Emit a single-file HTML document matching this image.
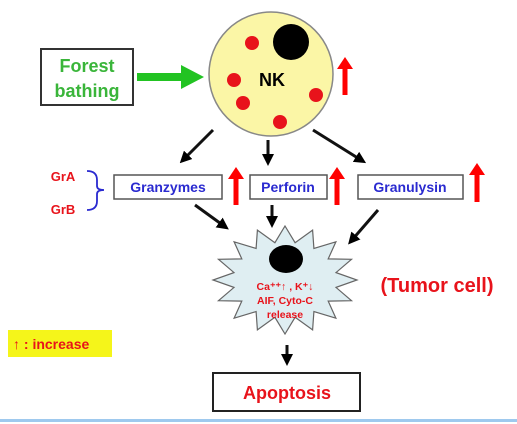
<!DOCTYPE html>
<html><head><meta charset="utf-8"><style>
html,body{margin:0;padding:0;background:#fff;}
svg{display:block;font-family:"Liberation Sans",Arial,sans-serif;font-weight:bold;}
</style></head><body>
<svg width="517" height="424" viewBox="0 0 517 424">
<defs>
<marker id="ah" markerWidth="4" markerHeight="4" refX="2" refY="2" orient="auto" markerUnits="strokeWidth"><path d="M0,0 L4,2 L0,4 z" fill="#000"/></marker>
</defs>
<rect x="41" y="49" width="92" height="56" fill="#fff" stroke="#333" stroke-width="2"/>
<text x="87" y="72" font-size="18" fill="#3ab53a" text-anchor="middle">Forest</text>
<text x="87" y="97" font-size="18" fill="#3ab53a" text-anchor="middle">bathing</text>
<line x1="137" y1="77" x2="184" y2="77" stroke="#22c322" stroke-width="8"/>
<polygon points="181,65 204,77 181,89" fill="#22c322"/>
<circle cx="271" cy="74" r="62" fill="#fbf6a6" stroke="#888" stroke-width="1.5"/>
<circle cx="291" cy="42" r="18" fill="#000"/>
<g fill="#e8131b">
<circle cx="252" cy="43" r="7"/><circle cx="234" cy="80" r="7"/><circle cx="243" cy="103" r="7"/><circle cx="316" cy="95" r="7"/><circle cx="280" cy="122" r="7"/>
</g>
<text x="272" y="86" font-size="18" fill="#000" text-anchor="middle">NK</text>
<g id="redarrows"></g>
<g stroke="#111" stroke-width="3" marker-end="url(#ah)">
<line x1="213" y1="130" x2="184" y2="159"/>
<line x1="268" y1="140" x2="268" y2="160"/>
<line x1="313" y1="130" x2="361" y2="160"/>
<line x1="195" y1="205" x2="224" y2="226"/>
<line x1="272" y1="205" x2="272" y2="222"/>
<line x1="378" y1="210" x2="352" y2="240"/>
<line x1="287" y1="345" x2="287" y2="360"/>
</g>
<rect x="114" y="175" width="108" height="24" fill="#fff" stroke="#555" stroke-width="1.5"/>
<text x="168" y="192" font-size="14" fill="#2a2ad0" text-anchor="middle">Granzymes</text>
<rect x="250" y="175" width="77" height="24" fill="#fff" stroke="#555" stroke-width="1.5"/>
<text x="288" y="192" font-size="14" fill="#2a2ad0" text-anchor="middle">Perforin</text>
<rect x="358" y="175" width="105" height="24" fill="#fff" stroke="#555" stroke-width="1.5"/>
<text x="410" y="192" font-size="14" fill="#2a2ad0" text-anchor="middle">Granulysin</text>
<text x="63" y="181" font-size="13" fill="#e8131b" text-anchor="middle">GrA</text>
<text x="63" y="214" font-size="13" fill="#e8131b" text-anchor="middle">GrB</text>
<path d="M87,171 Q97,171 97,180 L97,186 Q97,190 104,190 Q97,190 97,194 L97,201 Q97,210 87,210" fill="none" stroke="#2a2ad0" stroke-width="1.8"/>
<polygon id="star" fill="#dfeef2" stroke="#666" stroke-width="1.2"/>
<ellipse cx="286" cy="259" rx="17" ry="14" fill="#000"/>
<text x="285" y="290" font-size="10.5" fill="#e8131b" text-anchor="middle">Ca⁺⁺↑ , K⁺↓</text>
<text x="285" y="304" font-size="10.5" fill="#e8131b" text-anchor="middle">AIF, Cyto-C</text>
<text x="285" y="318" font-size="10.5" fill="#e8131b" text-anchor="middle">release</text>
<text x="437" y="292" font-size="20" fill="#e8131b" text-anchor="middle">(Tumor cell)</text>
<rect x="8" y="330" width="104" height="27" fill="#f5f51a"/>
<text x="13" y="349" font-size="14" fill="#e8131b">↑ : increase</text>
<rect x="213" y="373" width="147" height="38" fill="#fff" stroke="#222" stroke-width="2"/>
<text x="287" y="399" font-size="18" fill="#e8131b" text-anchor="middle">Apoptosis</text>
<rect x="0" y="419" width="517" height="3" fill="#9ec9ee"/>
</svg>
<script>
var ra=[[345,57,95],[236,167,205],[337,167,205],[477,163,202]];
var g=document.getElementById('redarrows');
ra.forEach(function(a){
var p=document.createElementNS('http://www.w3.org/2000/svg','path');
p.setAttribute('d','M'+(a[0]-2.5)+','+a[2]+' L'+(a[0]-2.5)+','+(a[1]+12)+' L'+(a[0]-8)+','+(a[1]+12)+' L'+a[0]+','+a[1]+' L'+(a[0]+8)+','+(a[1]+12)+' L'+(a[0]+2.5)+','+(a[1]+12)+' L'+(a[0]+2.5)+','+a[2]+' Z');
p.setAttribute('fill','#f00');


g.appendChild(p);
});
var pts=[],n=16,cx=285,cy=280;
for(var i=0;i<2*n;i++){var ang=Math.PI*i/n-Math.PI/2;var o=i%2==0;var rx=o?72:52,ry=o?54:38;pts.push((cx+rx*Math.cos(ang)).toFixed(1)+','+(cy+ry*Math.sin(ang)).toFixed(1));}
document.getElementById('star').setAttribute('points',pts.join(' '));
</script>
</body></html>
